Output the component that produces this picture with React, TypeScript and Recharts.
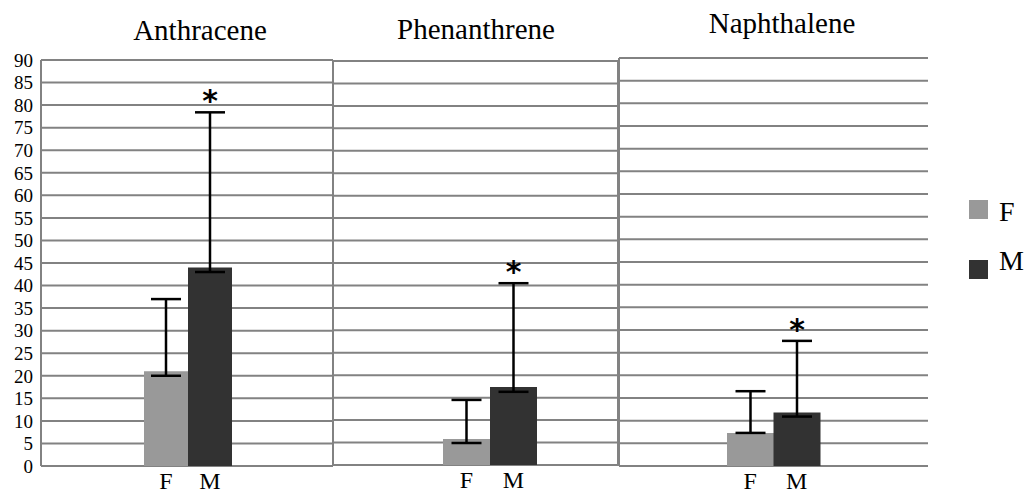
import React from 'react';
import { BarChart, Bar, XAxis, YAxis, CartesianGrid, ErrorBar, Cell, LabelList } from 'recharts';

const compounds = ['Anthracene', 'Phenanthrene', 'Naphthalene'];
const sexes = ['F', 'M'];
// mean per compound, F then M
const meanValues = [[21, 44], [5.8, 17.4], [7.3, 11.8]];
// error bar extents (down, up)
const errorDown = [[1, 1], [0.9, 1.1], [0, 0.9]];
const errorUp = [[16, 34.4], [8.7, 23.1], [9.2, 15.8]];
const significant = [[false, true], [false, true], [false, true]];
const yTicks = [0, 5, 10, 15, 20, 25, 30, 35, 40, 45, 50, 55, 60, 65, 70, 75, 80, 85, 90];

const COLORS: Record<string, string> = { F: '#999999', M: '#323232' };
const SERIF = 'Times New Roman, Liberation Serif, DejaVu Serif, serif';
const GRID = '#828282';

const PANELS = [
  { left: 0, width: 335, top: 60, bottom: 3, axisWidth: 41, padL: 103, padR: 101, rightBorder: true, titleX: 200, titleTop: 16 },
  { left: 331, width: 289, top: 61, bottom: 4, axisWidth: 0, padL: 110, padR: 81, rightBorder: true, titleX: 476, titleTop: 15 },
  { left: 617, width: 313, top: 58, bottom: 3, axisWidth: 0, padL: 108, padR: 108, rightBorder: false, titleX: 782, titleTop: 9 },
];

const makeStar = (p: number) => (props: any) => {
  const { x, y, width, height, value, index } = props;
  if (!significant[p][index] || !value) return null;
  const top = y - (errorUp[p][index] * height) / value;
  return (
    <text
      x={x + width / 2}
      y={top - 1}
      textAnchor="middle"
      fontFamily="DejaVu Sans, sans-serif"
      fontWeight="bold"
      fontSize={30}
      fill="#000"
    >
      *
    </text>
  );
};

function Panel({ p }: { p: number }) {
  const cfg = PANELS[p];
  const data = sexes.map((s, i) => ({
    sex: s,
    value: meanValues[p][i],
    err: [errorDown[p][i], errorUp[p][i]],
  }));

  return (
    <div style={{ position: 'absolute', left: cfg.left, top: 0 }}>
      <BarChart
        width={cfg.width}
        height={494}
        data={data}
        barCategoryGap={0}
        margin={{ top: cfg.top, right: 2, left: p === 0 ? 0 : 2, bottom: cfg.bottom }}
      >
        <CartesianGrid
          stroke={GRID}
          strokeWidth={2}
          verticalCoordinatesGenerator={({ offset }: any) =>
            cfg.rightBorder ? [offset.left, offset.left + offset.width] : [offset.left]
          }
        />
        <XAxis
          dataKey="sex"
          interval={0}
          axisLine={false}
          tickLine={false}
          height={25}
          tickMargin={0}
          padding={{ left: cfg.padL, right: cfg.padR }}
          tick={{ fontSize: 24, fill: '#000', fontFamily: SERIF }}
        />
        <YAxis
          domain={[0, 90]}
          ticks={yTicks}
          interval={0}
          hide={p !== 0}
          width={cfg.axisWidth}
          axisLine={false}
          tickLine={false}
          tick={{ fontSize: 19, fill: '#000', fontFamily: SERIF }}
        />
        <Bar dataKey="value" isAnimationActive={false}>
          {data.map((d) => (
            <Cell key={d.sex} fill={COLORS[d.sex]} />
          ))}
          <ErrorBar dataKey="err" direction="y" width={15} strokeWidth={2.5} stroke="#000" />
          <LabelList dataKey="value" content={makeStar(p)} />
        </Bar>
      </BarChart>
      <div
        style={{
          position: 'absolute',
          left: cfg.titleX - cfg.left - 100,
          width: 200,
          top: cfg.titleTop,
          textAlign: 'center',
          fontFamily: SERIF,
          fontSize: 29,
          lineHeight: '29px',
          color: '#000',
        }}
      >
        {compounds[p]}
      </div>
    </div>
  );
}

export default function App() {
  return (
    <div style={{ position: 'absolute', left: 0, top: 0, width: 1027, height: 494, background: '#fff' }}>
      {compounds.map((c, p) => (
        <Panel key={c} p={p} />
      ))}
      {sexes.map((s, i) => (
        <div key={s} style={{ position: 'absolute', left: 969, top: 200 + i * 60, height: 19 }}>
          <div style={{ position: 'absolute', left: 0, top: 0, width: 19, height: 19, background: COLORS[s] }} />
          <div
            style={{
              position: 'absolute',
              left: 30,
              top: i === 0 ? -2 : -13,
              fontFamily: SERIF,
              fontSize: 28,
              lineHeight: '28px',
              color: '#000',
            }}
          >
            {s}
          </div>
        </div>
      ))}
    </div>
  );
}
